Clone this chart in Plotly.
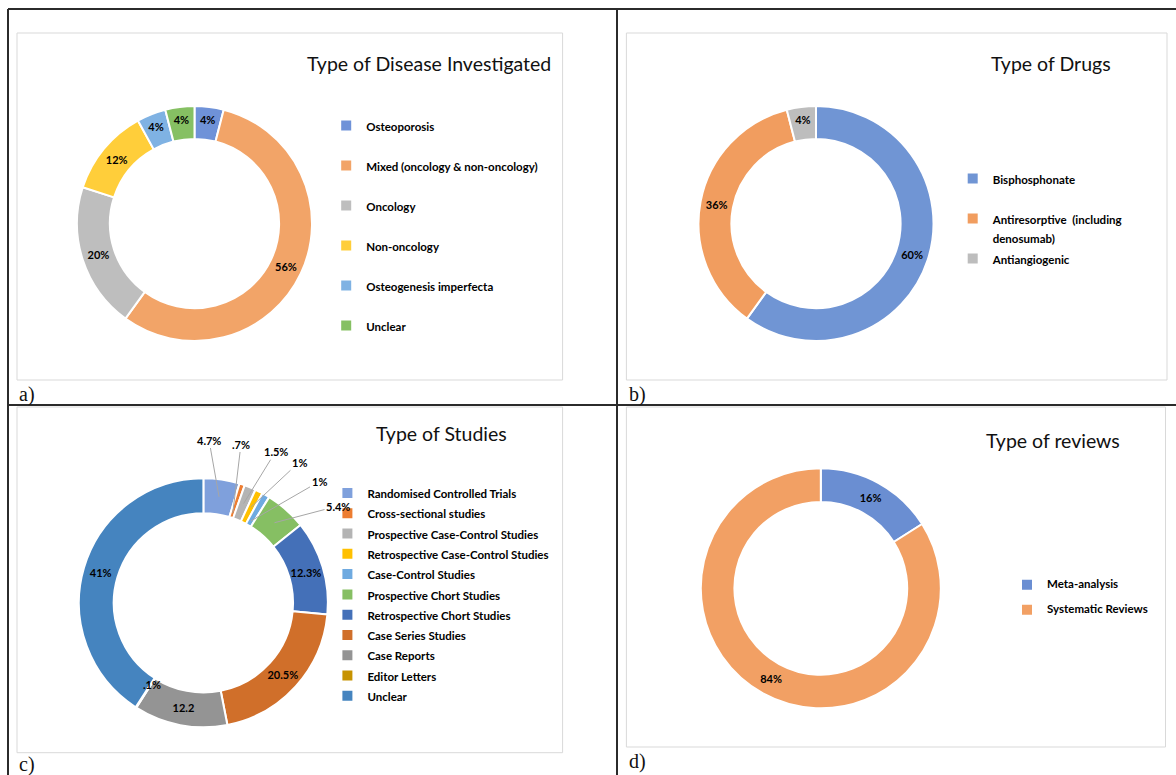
import math
import plotly.graph_objects as go

W, H = 1176, 775
FONT = "Lato"

# ---------------- data ----------------
disease_labels = ["Osteoporosis", "Mixed (oncology & non-oncology)", "Oncology",
                  "Non-oncology", "Osteogenesis imperfecta", "Unclear"]
disease_values = [4, 56, 20, 12, 4, 4]

drug_labels = ["Bisphosphonate", "Antiresorptive  (including<br>denosumab)", "Antiangiogenic"]
drug_values = [60, 36, 4]

study_labels = ["Randomised Controlled Trials", "Cross-sectional studies",
                "Prospective Case-Control Studies", "Retrospective Case-Control Studies",
                "Case-Control Studies", "Prospective Chort Studies",
                "Retrospective Chort Studies", "Case Series Studies", "Case Reports",
                "Editor Letters", "Unclear"]
study_values = [4.7, 0.7, 1.5, 1, 1, 5.4, 12.3, 20.5, 12.2, 0.1, 41]
study_text = ["4.7%", ".7%", "1.5%", "1%", "1%", "5.4%", "12.3%", "20.5%", "12.2", ".1%", "41%"]

review_labels = ["Meta-analysis", "Systematic Reviews"]
review_values = [16, 84]

# ---------------- styles ----------------
disease_colors = ["#6F92D8", "#F2A468", "#BEBEBE", "#FFCE3A", "#7FB2E3", "#86C063"]
drug_colors = ["#7095D4", "#F19D5F", "#BDBDBD"]
study_colors = ["#7FA0DC", "#ED7D31", "#B4B4B4", "#FFC000", "#6FAAE0", "#86BF63",
                "#4470B8", "#D06F2A", "#949494", "#C79300", "#4584BF"]
review_colors = ["#6A8ED2", "#F2A064"]


def px(x):
    return x / W


def py(y):
    return 1 - y / H


def dom(cx, cy, r):
    return dict(x=[px(cx - r), px(cx + r)], y=[py(cy + r), py(cy - r)])


def legend_labels(labels, two_line):
    out = []
    for lab in labels:
        parts = lab.split("<br>")
        s = "<br>".join("<span style='font-size:11.5px'>%s</span>" % p for p in parts)
        if two_line and len(parts) == 1:
            s += "<br>\u00a0"
        out.append(s)
    return out


common = dict(hole=0.72, sort=False, direction="clockwise", rotation=0,
              textfont=dict(family=FONT, size=11, color="black", weight="bold"),
              insidetextorientation="horizontal", hoverinfo="label+percent")

# centres / radii (px)
A = (194.5, 223.5, 117.5)
B = (816.0, 223.5, 117.5)
C = (203.4, 602.8, 124.5)
D = (820.8, 588.3, 120.0)

fig = go.Figure()

fig.add_trace(go.Pie(labels=legend_labels(disease_labels, True), values=disease_values,
                     marker=dict(colors=disease_colors, line=dict(color="white", width=2)),
                     texttemplate="%{percent:.0%}", textposition="inside",
                     domain=dom(*A), legend="legend", **common))

fig.add_trace(go.Pie(labels=legend_labels(drug_labels, True), values=drug_values,
                     marker=dict(colors=drug_colors, line=dict(color="white", width=2)),
                     texttemplate="%{percent:.0%}", textposition="inside",
                     domain=dom(*B), legend="legend2", **common))

study_pos = ["inside" if v >= 10 else "none" for v in study_values]
fig.add_trace(go.Pie(labels=legend_labels(study_labels, False), values=study_values,
                     marker=dict(colors=study_colors, line=dict(color="white", width=2)),
                     text=study_text, textinfo="text", textposition=study_pos,
                     domain=dom(*C), legend="legend3", **common))

fig.add_trace(go.Pie(labels=legend_labels(review_labels, True), values=review_values,
                     marker=dict(colors=review_colors, line=dict(color="white", width=2)),
                     texttemplate="%{percent:.0%}", textposition="inside",
                     domain=dom(*D), legend="legend4", **common))

annotations = []

# outside labels with leader lines for the small study slices
label_pos = {0: (209, 440), 1: (241, 444), 2: (275.5, 451.7), 3: (299, 462.3),
             4: (319, 481.7), 5: (338, 506)}
tip_frac = {0: 0.86, 1: 0.76, 2: 0.86, 3: 0.86, 4: 0.76, 5: 0.86}
total = sum(study_values)
cum = 0.0
for i, v in enumerate(study_values):
    ang = (cum + v / 2) / total * 2 * math.pi
    cum += v
    if study_pos[i] != "none":
        continue
    cx, cy, r = C
    if i in label_pos:
        rr = r * tip_frac[i]
        tx, ty = cx + rr * math.sin(ang), cy - rr * math.cos(ang)
        lx, ly = label_pos[i]
        annotations.append(dict(x=px(tx), y=py(ty), xref="paper", yref="paper",
                                ax=lx - tx, ay=ly - ty, text=study_text[i],
                                showarrow=True, arrowhead=0, arrowwidth=1,
                                arrowcolor="#A6A6A6", standoff=0,
                                font=dict(family=FONT, size=11, color="black", weight="bold")))
    else:
        rr = r * 0.86
        tx, ty = cx + rr * math.sin(ang), cy - rr * math.cos(ang)
        annotations.append(dict(x=px(tx - 4), y=py(ty), xref="paper", yref="paper",
                                text=study_text[i], showarrow=False,
                                font=dict(family=FONT, size=11, color="black", weight="bold")))

# chart titles
titles = [("Type of Disease Investigated", 429, 63), ("Type of Drugs", 1050.7, 63),
          ("Type of Studies", 441.7, 433), ("Type of reviews", 1053, 440)]
for t, x, y in titles:
    annotations.append(dict(x=px(x), y=py(y), xref="paper", yref="paper", text=t,
                            showarrow=False, xanchor="center", yanchor="middle",
                            font=dict(family=FONT, size=19.5, color="#111111")))

# panel letters
letters = [("a)", 17, 394), ("b)", 627, 394), ("c)", 17, 764), ("d)", 627, 761)]
for t, x, y in letters:
    annotations.append(dict(x=px(x), y=py(y), xref="paper", yref="paper", text=t,
                            showarrow=False, xanchor="left", yanchor="middle",
                            font=dict(family="Liberation Serif", size=20, color="#111111")))

shapes = []
# inner chart boxes
for x0, y0, x1, y1 in [(17, 33, 562.6, 380), (626.4, 33, 1167, 380),
                       (17, 407, 562.6, 752.7), (626.4, 407, 1165.5, 747)]:
    shapes.append(dict(type="rect", xref="paper", yref="paper", x0=px(x0), x1=px(x1),
                       y0=py(y1), y1=py(y0), line=dict(color="#D9D9D9", width=1)))
# outer table grid
for x0, y0, x1, y1 in [(8, 9, W, 9), (8, 405, W, 405), (8, 9, 8, H), (617, 9, 617, H)]:
    shapes.append(dict(type="line", xref="paper", yref="paper", x0=px(x0), x1=px(x1),
                       y0=py(y0), y1=py(y1), line=dict(color="#2b2b2b", width=2)))


def leg(x, y, size):
    return dict(x=px(x), y=py(y), xanchor="left", yanchor="top",
                font=dict(family=FONT, size=size, color="black", weight="bold"),
                bgcolor="rgba(0,0,0,0)", borderwidth=0, valign="top",
                traceorder="normal")


fig.update_layout(
    width=W, height=H, autosize=False,
    margin=dict(l=0, r=0, t=0, b=0),
    paper_bgcolor="white", plot_bgcolor="white",
    showlegend=True,
    legend=leg(326.2, 109.8, 14.23),
    legend2=leg(952.7, 162.8, 14.23),
    legend3=dict(leg(327.4, 477.8, 13.3), valign="middle"),
    legend4=leg(1007, 572.8, 8.46),
    annotations=annotations,
    shapes=shapes,
)

fig.write_html("out.html", config={"displayModeBar": False},
               post_script="document.body.style.margin='0px';document.body.style.overflow='hidden';")
